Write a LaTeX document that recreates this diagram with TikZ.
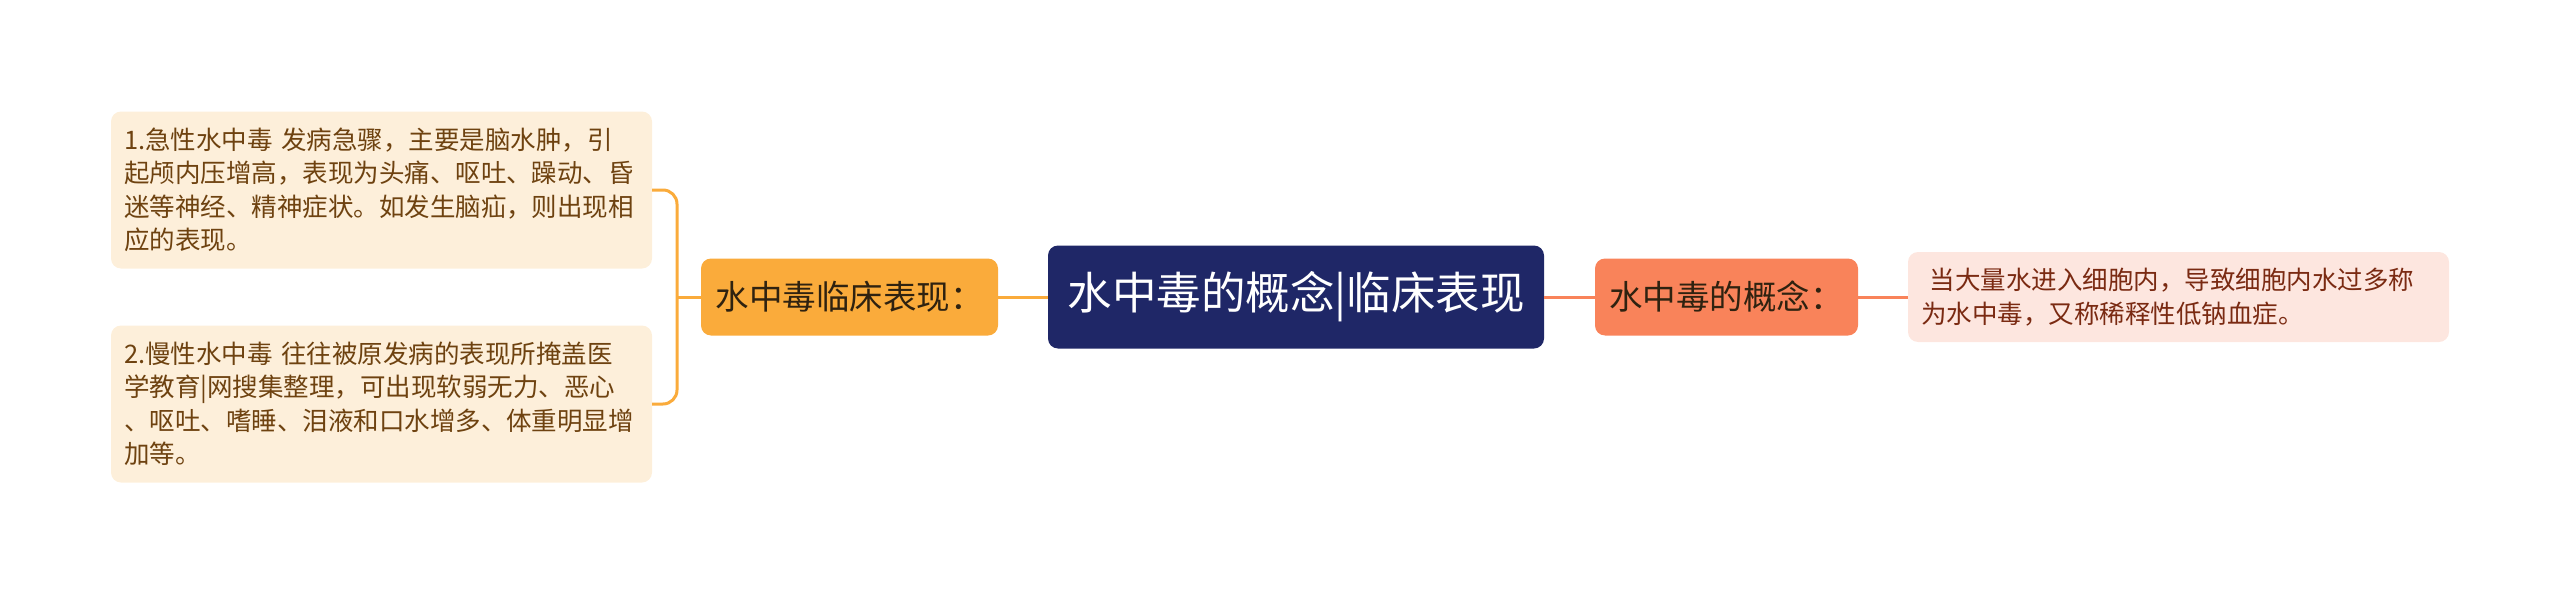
\documentclass[tikz,border=0pt]{standalone}
\usepackage{fontspec}
\setmainfont{Noto Sans CJK SC}
\usepackage{xcolor}
\usepackage{tikz}
\usetikzlibrary{positioning}
\usetikzlibrary{calc}
\definecolor{hubblue}{HTML}{1F2767}
\definecolor{lorange}{HTML}{FAAB3B}
\definecolor{lcream}{HTML}{FDEFDA}
\definecolor{ltext}{HTML}{6E4210}
\definecolor{rcoral}{HTML}{F9835A}
\definecolor{rpink}{HTML}{FDE6DF}
\definecolor{rtext}{HTML}{7A2A12}
\definecolor{btext}{HTML}{2F2210}
\tikzset{box/.style={rounded corners=10pt, inner sep=0pt, outer sep=0pt}}
\tikzset{leafbox/.style={box, inner xsep=13pt, text width=515pt, minimum width=541pt, align=left, font=\fontsize{25.5}{33.5}\selectfont}}
\tikzset{branchbox/.style={box, minimum height=77pt, align=center, font=\fontsize{33.5}{38}\selectfont}}

\begin{document}
\begin{tikzpicture}[x=1pt, y=-1pt, node distance=50pt and 50pt]
\useasboundingbox (0,0) rectangle (2560,594);
\node[box, fill=hubblue, text=white, minimum width=496pt, minimum height=103pt, font=\fontsize{44.5}{50}\selectfont] (hub) at (1296,297) {水中毒的概念|临床表现};
\node[branchbox, fill=lorange, text=btext, minimum width=297pt, left=50pt of hub] (clin) {水中毒临床表现：};
\node[branchbox, fill=rcoral, text=btext, minimum width=263pt, right=51pt of hub] (defn) {水中毒的概念：};
\node[leafbox, fill=rpink, text=rtext, minimum height=90pt, right=50pt of defn] (deftext) {\ 当大量水进入细胞内，导致细胞内水过多称\\为水中毒，又称稀释性低钠血症。};
\node[leafbox, fill=lcream, text=ltext, minimum height=157pt, left=49pt of clin, yshift=107pt] (acute) {1.急性水中毒 发病急骤，主要是脑水肿，引\\起颅内压增高，表现为头痛、呕吐、躁动、昏\\迷等神经、精神症状。如发生脑疝，则出现相\\应的表现。};
\node[leafbox, fill=lcream, text=ltext, minimum height=157pt, left=49pt of clin, yshift=-107pt] (chronic) {2.慢性水中毒 往往被原发病的表现所掩盖医\\学教育|网搜集整理，可出现软弱无力、恶心\\、呕吐、嗜睡、泪液和口水增多、体重明显增\\加等。};
\coordinate (fork) at ($(clin.west)+(-24,0)$);

\draw[lorange, line width=3pt] (hub) -- (clin);
\draw[lorange, line width=3pt] (clin.west) -- (fork);
\draw[lorange, line width=3pt, rounded corners=14pt] (acute.east) -- (fork |- acute.east) -- (fork |- chronic.east) -- (chronic.east);
\draw[rcoral, line width=3pt] (hub) -- (defn);
\draw[rcoral, line width=3pt] (defn) -- (deftext);
\end{tikzpicture}
\end{document}
